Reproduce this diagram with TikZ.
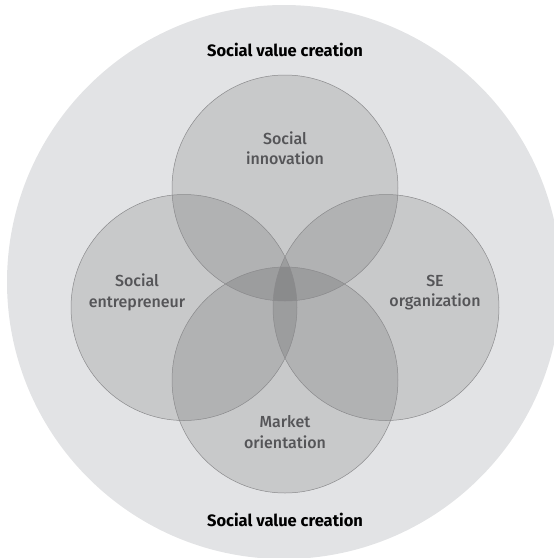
\documentclass[tikz,border=0pt]{standalone}
\usepackage{fontspec}
\setmainfont{Fira Sans}
\newfontfamily\labfont{Fira Sans Medium}
\definecolor{bgdisc}{RGB}{226,227,229}
\definecolor{ringcol}{RGB}{138,138,140}
\definecolor{labcol}{RGB}{85,85,88}
\begin{document}
\begin{tikzpicture}[x=1pt,y=-1pt,
  vset/.style={circle,minimum size=226pt,inner sep=0pt,fill=black,fill opacity=0.115},
  ringline/.style={draw=ringcol,line width=0.5pt},
  lab/.style={align=center,text=labcol,font=\labfont\fontsize{16}{20.5}\selectfont},
  title/.style={text=black,font=\fontsize{16.5}{18}\selectfont\bfseries}]
\useasboundingbox (0,0) rectangle (554,558);
\clip (0,0) rectangle (554,558);
\fill[bgdisc] (284,282) circle[radius=277pt];
\node[vset] (innov) at (285,188) {};
\node[vset] (entre) at (184,307.5) {};
\node[vset] (seorg) at (386,307.5) {};
\node[vset] (market) at (285,380) {};
\foreach \c in {innov,entre,seorg,market}
  \draw[ringline] (\c.center) circle[radius=113pt];
\node[lab] (linnov) at (285,148) {Social\\innovation};
\node[lab] (lentre) at (137,292.5) {Social\\entrepreneur};
\node[lab] (lseorg) at (435,292.5) {SE\\organization};
\node[lab] (lmarket) at (285,432) {Market\\orientation};
\node[title] (ttop) at (285,50) {Social value creation};
\node[title] (tbot) at (285,520) {Social value creation};
\end{tikzpicture}
\end{document}
